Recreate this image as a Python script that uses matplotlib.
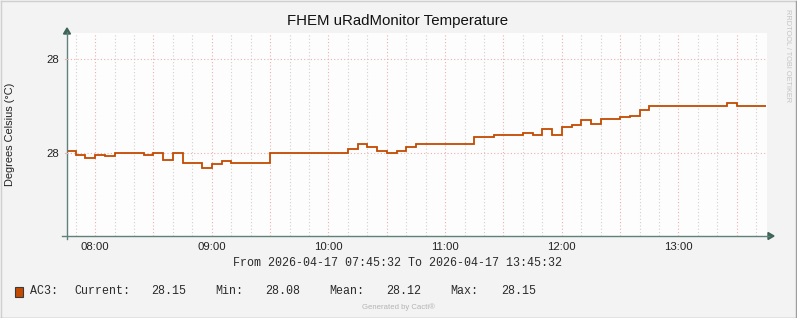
import matplotlib
matplotlib.use("Agg")
import matplotlib.pyplot as plt
import matplotlib.dates as mdates
from matplotlib.ticker import FuncFormatter
from matplotlib.patches import Polygon, Rectangle
from matplotlib.lines import Line2D
from datetime import datetime, timedelta

# ---------------- data ----------------
title = "FHEM uRadMonitor Temperature"
ylabel = "Degrees Celsius (°C)"
series_name = "AC3:"
period_text = "From 2026-04-17 07:45:32 To 2026-04-17 13:45:32"
view_start = datetime(2026, 4, 17, 7, 45, 32)
view_end = datetime(2026, 4, 17, 13, 45, 32)
first_slot = datetime(2026, 4, 17, 7, 45, 0)
step_minutes = 5

# 5-minute averages (°C)
temps = [
    28.102, 28.098, 28.095, 28.098, 28.097, 28.100, 28.100, 28.100,
    28.098, 28.100, 28.093, 28.100, 28.090, 28.090, 28.084, 28.089,
    28.092, 28.090, 28.090, 28.090, 28.090, 28.100, 28.100, 28.100,
    28.100, 28.100, 28.100, 28.100, 28.100, 28.105, 28.110, 28.107,
    28.102, 28.100, 28.102, 28.107, 28.110, 28.110, 28.110, 28.110,
    28.110, 28.110, 28.117, 28.117, 28.120, 28.120, 28.120, 28.122,
    28.120, 28.126, 28.120, 28.128, 28.130, 28.135, 28.131, 28.137,
    28.136, 28.139, 28.140, 28.146, 28.150, 28.150, 28.150, 28.150,
    28.150, 28.150, 28.150, 28.150, 28.154, 28.150, 28.150, 28.150,
]

ytick_values = [28.1, 28.2]
ytick_labels = ["28", "28"]
y_range = (28.012, 28.228)

legend_labels = ["Current:", "Min:", "Mean:", "Max:"]
legend_values = ["28.15", "28.08", "28.12", "28.15"]

line_color = "#C44A00"

# ---------------- figure ----------------
W, H = 797, 318
L, R, T, B = 67, 767, 33, 236
fig = plt.figure(figsize=(W / 100, H / 100), dpi=100, facecolor="#F3F3F3")
ax = fig.add_axes([L / W, 1 - B / H, (R - L) / W, (B - T) / H])
ax.set_facecolor("#FDFDFD")

edges = [first_slot + timedelta(minutes=step_minutes * i) for i in range(len(temps) + 1)]
ax.stairs(temps, mdates.date2num(edges), color=line_color, lw=1.3, baseline=None, zorder=3)

ax.set_xlim(mdates.date2num(view_start), mdates.date2num(view_end))
ax.set_ylim(*y_range)

ax.set_yticks(ytick_values)
ax.set_yticklabels(ytick_labels)

ax.xaxis.set_major_locator(mdates.MinuteLocator(byminute=[0, 30]))
ax.xaxis.set_minor_locator(mdates.MinuteLocator(byminute=list(range(0, 60, 10))))
ax.xaxis.set_major_formatter(FuncFormatter(
    lambda v, p: mdates.num2date(v).strftime("%H:%M") if mdates.num2date(v).minute == 0 else ""))
ax.xaxis.set_minor_formatter(FuncFormatter(lambda v, p: ""))

for lab in ax.get_xticklabels() + ax.get_yticklabels():
    lab.set_fontfamily("Liberation Sans")
    lab.set_fontsize(8.2)
    lab.set_color("#222222")
ax.tick_params(axis="both", which="both", length=0)
ax.tick_params(axis="x", pad=4.5)
ax.tick_params(axis="y", pad=5.5)

dot = (0, (1, 2))
ax.grid(which="major", axis="both", color="#EBB0B0", ls=dot, lw=0.8)
ax.grid(which="minor", axis="x", color="#D0D0D0", ls=dot, lw=0.8)
for s in ax.spines.values():
    s.set_visible(False)

# ---------------- overlay (pixel coordinates) ----------------
ov = fig.add_axes([0, 0, 1, 1], facecolor="none")
ov.set_xlim(0, W)
ov.set_ylim(H, 0)
ov.axis("off")
axis_col = "#60807A"
ov.add_line(Line2D([L, L], [B + 3, 32], color=axis_col, lw=1.0))
ov.add_line(Line2D([L - 5, 769], [B, B], color=axis_col, lw=1.0))
ov.add_patch(Polygon([[L - 3.5, 34], [L + 3.5, 34], [L, 28]], closed=True, color="#3E6358"))
ov.add_patch(Polygon([[768, B - 3.5], [768, B + 3.5], [774, B]], closed=True, color="#3E6358"))
for yv in ytick_values:
    ypx = T + (y_range[1] - yv) / (y_range[1] - y_range[0]) * (B - T)
    ov.add_line(Line2D([L - 2, L], [ypx, ypx], color="#EBB0B0", lw=0.8))

# frame
ov.add_line(Line2D([0.5, W - 0.5], [0.5, 0.5], color="#CFCFCF", lw=1))
ov.add_line(Line2D([0.5, 0.5], [0.5, H - 0.5], color="#CFCFCF", lw=1))
ov.add_line(Line2D([W - 0.5, W - 0.5], [0.5, H - 0.5], color="#9E9E9E", lw=1))
ov.add_line(Line2D([0.5, W - 0.5], [H - 0.5, H - 0.5], color="#9E9E9E", lw=1))

# texts
ov.text(W / 2 - 1, 21, title, ha="center", va="center", family="Liberation Sans", fontsize=10.8, color="#111111")
ov.text(10.5, (T + B) / 2, ylabel, ha="center", va="center", rotation=90,
        family="Liberation Sans", fontsize=7.9, color="#222222")
ov.text(788, 56, "RRDTOOL / TOBI OETIKER", ha="center", va="center", rotation=270,
        family="Liberation Sans", fontsize=5.3, color="#C4C4C4")
mono = dict(family="Liberation Mono", fontsize=8.4, color="#2A2A2A", va="center")
ov.text(W / 2 - 1, 263.5, period_text, ha="center", **mono)

ov.add_patch(Rectangle((15.5, 287), 7.5, 10, facecolor=line_color, edgecolor="#3A3A3A", lw=0.8))
ov.text(30, 291, series_name, ha="left", **mono)
label_x = [74, 215.5, 329, 450]
value_x = [151.5, 265, 386, 501]
for lx, vx, lab, val in zip(label_x, value_x, legend_labels, legend_values):
    ov.text(lx, 291, lab, ha="left", **mono)
    ov.text(vx, 291, val, ha="left", **mono)

ov.text(398.5, 307.5, "Generated by Cacti®", ha="center", va="center",
        family="Liberation Sans", fontsize=5.6, color="#B4B4B4")

fig.savefig("out.png", dpi=100, facecolor=fig.get_facecolor())
